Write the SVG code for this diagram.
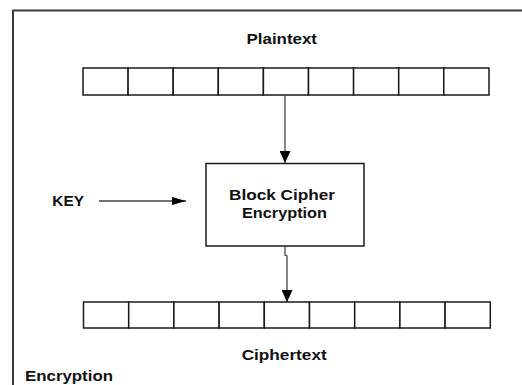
<svg xmlns="http://www.w3.org/2000/svg" width="522" height="385" viewBox="0 0 522 385">
  <style>
    .frame { fill: none; stroke: #3a3a3a; stroke-width: 2; }
    .cell { fill: #ffffff; stroke: #1a1a1a; stroke-width: 1.5; }
    .box { fill: #ffffff; stroke: #1a1a1a; stroke-width: 1.5; }
    .wire { fill: none; stroke: #444444; stroke-width: 1.3; }
    .lbl { font-family: "Liberation Sans", Arial, sans-serif; font-weight: bold; font-size: 15px; fill: #111111; }
  </style>
  <defs>
    <!-- arrowheads drawn along +x, turned by the path direction -->
    <marker id="head" markerWidth="12" markerHeight="11" viewBox="0 0 12 11" refX="12" refY="5.5" orient="auto" markerUnits="userSpaceOnUse">
      <path d="M0,0 L12,5.5 L0,11 Z" fill="#000000"/>
    </marker>
    <marker id="headKey" markerWidth="14" markerHeight="8" viewBox="0 0 14 8" refX="14" refY="4" orient="auto" markerUnits="userSpaceOnUse">
      <path d="M0,0 L14,4 L0,8 Z" fill="#000000"/>
    </marker>
  </defs>

  <rect width="522" height="385" fill="#ffffff"/>

  <!-- outer frame, open on the right and bottom -->
  <path class="frame" d="M13,385 L13,10.5 L522,10.5"/>

  <g id="plaintext">
    <text class="lbl" x="246.5" y="43.5" textLength="70.5" lengthAdjust="spacingAndGlyphs">Plaintext</text>
    <g id="plaintext-cells">
      <rect class="cell" x="83" y="68" width="45.1" height="27"/>
      <rect class="cell" x="128.1" y="68" width="45.1" height="27"/>
      <rect class="cell" x="173.2" y="68" width="45.1" height="27"/>
      <rect class="cell" x="218.3" y="68" width="45.1" height="27"/>
      <rect class="cell" x="263.4" y="68" width="45.1" height="27"/>
      <rect class="cell" x="308.5" y="68" width="45.1" height="27"/>
      <rect class="cell" x="353.6" y="68" width="45.1" height="27"/>
      <rect class="cell" x="398.7" y="68" width="45.1" height="27"/>
      <rect class="cell" x="443.8" y="68" width="45.2" height="27"/>
    </g>
  </g>

  <g id="cipher">
    <rect class="box" x="206" y="163.5" width="158" height="82.5"/>
    <text class="lbl" x="229" y="199.5" textLength="106" lengthAdjust="spacingAndGlyphs">Block Cipher</text>
    <text class="lbl" x="242" y="217.5" textLength="85" lengthAdjust="spacingAndGlyphs">Encryption</text>
  </g>

  <g id="key">
    <text class="lbl" x="52.3" y="206" textLength="31.7" lengthAdjust="spacingAndGlyphs">KEY</text>
  </g>

  <g id="ciphertext">
    <g id="ciphertext-cells">
      <rect class="cell" x="83.5" y="302" width="45.2" height="26"/>
      <rect class="cell" x="128.7" y="302" width="45.2" height="26"/>
      <rect class="cell" x="173.9" y="302" width="45.2" height="26"/>
      <rect class="cell" x="219.1" y="302" width="45.2" height="26"/>
      <rect class="cell" x="264.3" y="302" width="45.2" height="26"/>
      <rect class="cell" x="309.5" y="302" width="45.2" height="26"/>
      <rect class="cell" x="354.7" y="302" width="45.2" height="26"/>
      <rect class="cell" x="399.9" y="302" width="45.2" height="26"/>
      <rect class="cell" x="445.1" y="302" width="45.2" height="26"/>
    </g>
    <text class="lbl" x="241.7" y="360" textLength="85" lengthAdjust="spacingAndGlyphs">Ciphertext</text>
  </g>

  <g id="caption">
    <text class="lbl" x="25" y="380.5" textLength="88" lengthAdjust="spacingAndGlyphs">Encryption</text>
  </g>

  <g id="connectors">
    <path class="wire" d="M285,95 L285,163" marker-end="url(#head)"/>
    <path class="wire" d="M285,246 L285,255 L287,256 L287,302" marker-end="url(#head)"/>
    <path class="wire" d="M99,201 L186,201" marker-end="url(#headKey)"/>
  </g>
</svg>
